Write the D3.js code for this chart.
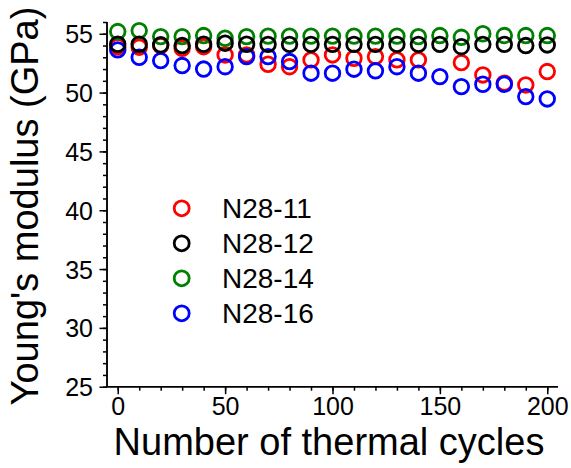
<!DOCTYPE html>
<html><head><meta charset="utf-8">
<script src="https://cdn.jsdelivr.net/npm/d3@7/dist/d3.min.js"></script>
<style>body{margin:0;background:#fff}svg{display:block}</style>
</head><body><svg id="c" width="571" height="468"></svg>
<script>
const cycles = [0,10,20,30,40,50,60,70,80,90,100,110,120,130,140,150,160,170,180,190,200];
const n28_11 = [53.9,53.86,54.0,53.77,53.9,53.2,53.2,52.41,52.2,52.78,53.2,52.92,53.06,52.78,52.78,null,52.55,51.5,50.8,50.65,51.79];
const n28_12 = [54.11,54.11,54.06,54.0,54.11,54.2,54.11,54.1,54.1,54.1,54.1,54.1,54.1,54.1,54.1,54.1,53.9,54.1,54.1,54.0,54.05];
const n28_14 = [55.19,55.27,54.76,54.76,54.85,54.62,54.76,54.8,54.8,54.8,54.8,54.8,54.8,54.8,54.76,54.85,54.7,55.0,54.85,54.85,54.85];
const n28_16 = [53.63,53.0,52.72,52.3,52.0,52.2,53.06,53.06,52.64,51.65,51.65,51.99,51.85,52.2,51.65,51.36,50.51,50.71,50.71,49.66,49.46];
const seriesNames = ["N28-11","N28-12","N28-14","N28-16"];
const seriesColors = ["#ff0000","#000000","#008000","#0000ff"];
const seriesValues = [n28_11,n28_12,n28_14,n28_16];
const drawOrder = [0,2,3,1];
const xTicks = [0,50,100,150,200];
const yTicks = [25,30,35,40,45,50,55];

const svg = d3.select("#c");
const x = d3.scaleLinear().domain([-5,205]).range([107,558]);
const y = d3.scaleLinear().domain([25,56]).range([386.7,22]);
const font = "Liberation Sans, Arial, sans-serif";

// minor ticks
const gx = svg.append("g").attr("transform","translate(0,386.7)");
gx.call(d3.axisBottom(x).tickValues(d3.range(0,201,10)).tickSize(4).tickFormat(""));
gx.append("g").call(d3.axisBottom(x).tickValues(xTicks).tickSize(7.5).tickFormat(d3.format("d")));
gx.selectAll(".domain").attr("stroke","#000").attr("stroke-width",1.5).attr("d","M107,0H558");
gx.selectAll("line").attr("stroke","#000").attr("stroke-width",1.5);
gx.selectAll("text").attr("font-family",font).attr("font-size",25).attr("fill","#000").attr("y",11).attr("dy","0.71em");

const gy = svg.append("g").attr("transform","translate(107,0)");
gy.call(d3.axisLeft(y).tickValues(d3.range(25,57,1)).tickSize(4).tickFormat(""));
gy.append("g").call(d3.axisLeft(y).tickValues(yTicks).tickSize(7.5).tickFormat(d3.format("d")));
gy.selectAll(".domain").attr("stroke","#000").attr("stroke-width",1.5).attr("d","M0,22V386.7");
gy.selectAll("line").attr("stroke","#000").attr("stroke-width",1.5);
gy.selectAll("text").attr("font-family",font).attr("font-size",25).attr("fill","#000").attr("x",-14).attr("dy","0.36em");

// data
drawOrder.forEach(i => {
  svg.append("g").selectAll("circle")
    .data(cycles.map((c,j)=>({c, v: seriesValues[i][j]})).filter(d=>d.v!=null))
    .join("circle")
    .attr("cx", d=>x(d.c)).attr("cy", d=>y(d.v)).attr("r",7.3)
    .attr("fill","none").attr("stroke",seriesColors[i]).attr("stroke-width",2.8);
});

// legend
const lg = svg.append("g");
seriesNames.forEach((nm,i)=>{
  const ly = 208.3 + i*35;
  lg.append("circle").attr("cx",181.7).attr("cy",ly).attr("r",7.5)
    .attr("fill","none").attr("stroke",seriesColors[i]).attr("stroke-width",2.8);
  lg.append("text").attr("x",222).attr("y",ly).attr("dy","0.36em")
    .attr("font-family",font).attr("font-size",28).attr("fill","#000").text(nm);
});

// axis titles
svg.append("text").attr("x",329).attr("y",455).attr("text-anchor","middle")
  .attr("font-family",font).attr("font-size",38).attr("fill","#000").text("Number of thermal cycles");
svg.append("text").attr("transform","translate(38,206) rotate(-90)").attr("text-anchor","middle")
  .attr("font-family",font).attr("font-size",38).attr("fill","#000").text("Young's modulus (GPa)");
</script></body></html>
